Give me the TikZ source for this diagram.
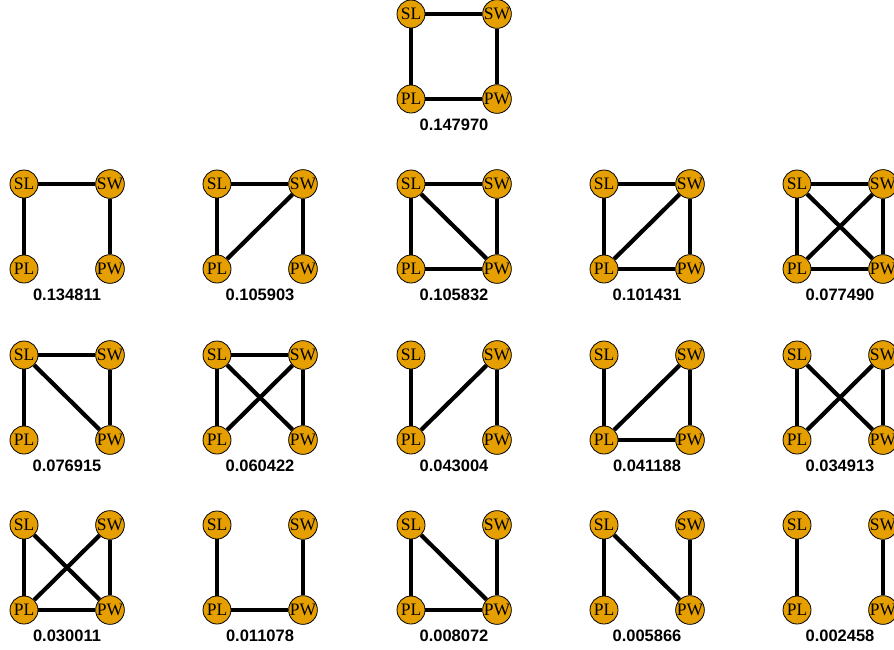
\documentclass[tikz,border=0pt]{standalone}
\usepackage{fontspec}
\setmainfont{Liberation Serif}
\setsansfont{Liberation Sans}
\usetikzlibrary{positioning}

\definecolor{nodeorange}{HTML}{E69F00}

% one graph: four variables and its score underneath
\newcommand{\irisnet}[4]{%
    \node[var] (#1sl) at (#2,#3) {SL};
    \node[var] (#1sw) at (#2+86,#3) {SW};
    \node[var] (#1pl) at (#2,#3+85) {PL};
    \node[var] (#1pw) at (#2+86,#3+85) {PW};
    \node[score] (#1val) at (#2+43,#3+111) {#4};
}

\begin{document}
\begin{tikzpicture}[x=1pt, y=-1pt,
        var/.style={circle, draw, line width=0.8pt, fill=nodeorange, minimum size=28pt, inner sep=0pt, font=\fontsize{17.5}{17.5}\selectfont},
        score/.style={inner sep=0pt, font=\sffamily\bfseries\fontsize{16.5}{16.5}\selectfont},
        edge/.style={line width=4.2pt}
    ]
    \useasboundingbox (0,0) rectangle (894,649);
    \clip (0,0) rectangle (894,649);

    % top
    \irisnet{a}{411}{14}{0.147970}
    \draw[edge] (asl) -- (asw);
    \draw[edge] (asl) -- (apl);
    \draw[edge] (asw) -- (apw);
    \draw[edge] (apl) -- (apw);

    % first row
    \irisnet{b}{24}{184}{0.134811}
    \draw[edge] (bsl) -- (bsw);
    \draw[edge] (bsl) -- (bpl);
    \draw[edge] (bsw) -- (bpw);

    \irisnet{c}{217}{184}{0.105903}
    \draw[edge] (csl) -- (csw);
    \draw[edge] (csl) -- (cpl);
    \draw[edge] (cpl) -- (csw);
    \draw[edge] (csw) -- (cpw);

    \irisnet{d}{411}{184}{0.105832}
    \draw[edge] (dsl) -- (dsw);
    \draw[edge] (dsl) -- (dpl);
    \draw[edge] (dsl) -- (dpw);
    \draw[edge] (dsw) -- (dpw);
    \draw[edge] (dpl) -- (dpw);

    \irisnet{e}{604}{184}{0.101431}
    \draw[edge] (esl) -- (esw);
    \draw[edge] (esl) -- (epl);
    \draw[edge] (epl) -- (esw);
    \draw[edge] (esw) -- (epw);
    \draw[edge] (epl) -- (epw);

    \irisnet{f}{797}{184}{0.077490}
    \draw[edge] (fsl) -- (fsw);
    \draw[edge] (fsl) -- (fpl);
    \draw[edge] (fsl) -- (fpw);
    \draw[edge] (fpl) -- (fsw);
    \draw[edge] (fsw) -- (fpw);
    \draw[edge] (fpl) -- (fpw);

    % second row
    \irisnet{g}{24}{355}{0.076915}
    \draw[edge] (gsl) -- (gsw);
    \draw[edge] (gsl) -- (gpl);
    \draw[edge] (gsl) -- (gpw);
    \draw[edge] (gsw) -- (gpw);

    \irisnet{h}{217}{355}{0.060422}
    \draw[edge] (hsl) -- (hsw);
    \draw[edge] (hsl) -- (hpl);
    \draw[edge] (hsl) -- (hpw);
    \draw[edge] (hpl) -- (hsw);
    \draw[edge] (hsw) -- (hpw);

    \irisnet{i}{411}{355}{0.043004}
    \draw[edge] (isl) -- (ipl);
    \draw[edge] (ipl) -- (isw);
    \draw[edge] (isw) -- (ipw);

    \irisnet{j}{604}{355}{0.041188}
    \draw[edge] (jsl) -- (jpl);
    \draw[edge] (jpl) -- (jsw);
    \draw[edge] (jsw) -- (jpw);
    \draw[edge] (jpl) -- (jpw);

    \irisnet{k}{797}{355}{0.034913}
    \draw[edge] (ksl) -- (kpl);
    \draw[edge] (ksl) -- (kpw);
    \draw[edge] (kpl) -- (ksw);
    \draw[edge] (ksw) -- (kpw);

    % third row
    \irisnet{l}{24}{525}{0.030011}
    \draw[edge] (lsl) -- (lpl);
    \draw[edge] (lsl) -- (lpw);
    \draw[edge] (lpl) -- (lsw);
    \draw[edge] (lsw) -- (lpw);
    \draw[edge] (lpl) -- (lpw);

    \irisnet{m}{217}{525}{0.011078}
    \draw[edge] (msl) -- (mpl);
    \draw[edge] (msw) -- (mpw);
    \draw[edge] (mpl) -- (mpw);

    \irisnet{n}{411}{525}{0.008072}
    \draw[edge] (nsl) -- (npl);
    \draw[edge] (nsl) -- (npw);
    \draw[edge] (nsw) -- (npw);
    \draw[edge] (npl) -- (npw);

    \irisnet{o}{604}{525}{0.005866}
    \draw[edge] (osl) -- (opl);
    \draw[edge] (osl) -- (opw);
    \draw[edge] (osw) -- (opw);

    \irisnet{p}{797}{525}{0.002458}
    \draw[edge] (psl) -- (ppl);
    \draw[edge] (psw) -- (ppw);
\end{tikzpicture}
\end{document}
